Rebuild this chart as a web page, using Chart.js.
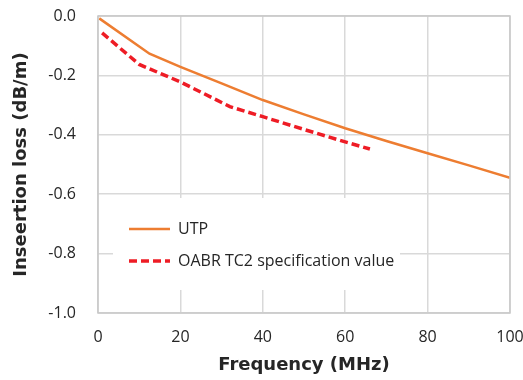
<!DOCTYPE html>
<html><head><meta charset="utf-8">
<script src="https://cdn.jsdelivr.net/npm/chart.js@4.4.1/dist/chart.umd.min.js"></script>
<style>html,body{margin:0;padding:0;background:#fff}#wrap{width:523px;height:380px}</style>
</head><body><div id="wrap"><canvas id="c" width="523" height="380"></canvas></div>
<script>
const utpFreq = [0.3, 12.5, 20, 30, 40, 50, 60, 70, 80, 90, 100];
const utpLoss = [-0.008, -0.127, -0.171, -0.227, -0.283, -0.331, -0.378, -0.421, -0.462, -0.503, -0.545];
const specFreq = [1, 10, 20, 32, 40, 50, 60, 66];
const specLoss = [-0.057, -0.163, -0.222, -0.305, -0.339, -0.382, -0.424, -0.448];
const seriesNames = ["UTP", "OABR TC2 specification value"];
const xTitle = "Frequency (MHz)";
const yTitle = "Inseertion loss (dB/m)";

const FONT = "'Open Sans', 'Noto Sans', sans-serif";
const TFONT = "'DejaVu Sans', sans-serif";
const TXT = "#262626";

const legendBox = {
  id: 'legendBox',
  beforeDatasetsDraw(chart) {
    const ctx = chart.ctx, a = chart.chartArea;
    const x0 = a.left + 15, y0 = a.top + 182, w = 287, h = 92;
    ctx.save();
    ctx.fillStyle = '#fff';
    ctx.fillRect(x0, y0, w, h);
    chart.data.datasets.forEach((ds, i) => {
      const y = y0 + 31 + i * 32;
      ctx.beginPath();
      ctx.strokeStyle = ds.borderColor;
      ctx.lineWidth = ds.borderWidth;
      ctx.setLineDash(ds.borderDash || []);
      ctx.moveTo(x0 + 16, y);
      ctx.lineTo(x0 + 57, y);
      ctx.stroke();
      ctx.setLineDash([]);
      ctx.fillStyle = TXT;
      ctx.font = "16px " + FONT;
      ctx.textBaseline = 'middle';
      ctx.fillText(ds.label, x0 + 65, y);
    });
    ctx.restore();
  },
  afterDraw(chart) {
    const ctx = chart.ctx, a = chart.chartArea;
    ctx.save();
    ctx.strokeStyle = '#c8c8c8';
    ctx.lineWidth = 1.5;
    ctx.strokeRect(a.left, a.top, a.right - a.left, a.bottom - a.top);
    ctx.restore();
  }
};

new Chart(document.getElementById('c'), {
  type: 'line',
  data: {
    datasets: [
      { label: seriesNames[0], data: utpFreq.map((f, i) => ({x: f, y: utpLoss[i]})),
        borderColor: '#ED7D31', borderWidth: 2.5, pointRadius: 0, tension: 0, fill: false },
      { label: seriesNames[1], data: specFreq.map((f, i) => ({x: f, y: specLoss[i]})),
        borderColor: '#EE1C25', borderWidth: 3.5, borderDash: [8, 4], pointRadius: 0, tension: 0, fill: false }
    ]
  },
  options: {
    responsive: false, animation: false,
    layout: { padding: { top: 16, right: 13, left: 0, bottom: 0 } },
    plugins: { legend: { display: false }, tooltip: { enabled: false } },
    scales: {
      x: {
        type: 'linear', min: 0, max: 100,
        ticks: { stepSize: 20, color: TXT, font: { family: FONT, size: 16 }, padding: 15, maxRotation: 0 },
        grid: { color: '#d9d9d9', lineWidth: 1.5, drawTicks: false },
        border: { display: false },
        title: { display: true, text: xTitle, color: TXT, font: { family: TFONT, size: 18, weight: 'bold' }, padding: { top: 2 } },
        afterFit(s) { s.height = 67; s.paddingLeft = 0; s.paddingRight = 0; }
      },
      y: {
        min: -1, max: 0,
        ticks: { stepSize: 0.2, color: TXT, font: { family: FONT, size: 16 }, padding: 22,
          callback: v => Number(v).toFixed(1) },
        grid: { color: '#d9d9d9', lineWidth: 1.5, drawTicks: false },
        border: { display: false },
        title: { display: true, text: yTitle, color: TXT, font: { family: TFONT, size: 18, weight: 'bold' }, padding: { top: 11, bottom: 4 } },
        afterFit(s) { s.width = 98; s.paddingTop = 0; s.paddingBottom = 0; }
      }
    }
  },
  plugins: [legendBox]
});
</script></body></html>
